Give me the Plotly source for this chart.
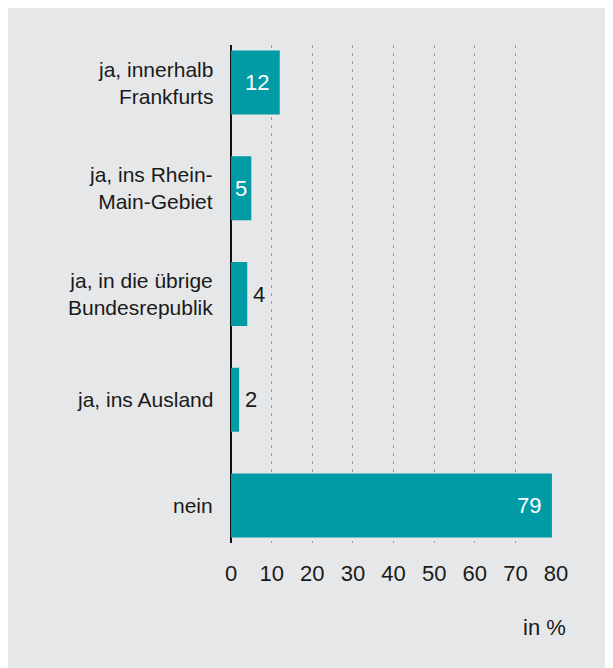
import plotly.graph_objects as go

# Antworten (von oben nach unten) und Anteile in %
categories = ['ja, innerhalb<br>Frankfurts', 'ja, ins Rhein-<br>Main-Gebiet',
              'ja, in die übrige<br>Bundesrepublik', 'ja, ins Ausland', 'nein']
values = [12, 5, 4, 2, 79]
label_inside = [True, True, False, False, True]
x_ticks = [0, 10, 20, 30, 40, 50, 60, 70, 80]

TEAL = '#009ba4'
GREY_BG = '#e6e7e9'
DARK = '#1a1a1a'
FONT = 'Liberation Sans, Arial, sans-serif'

fig = go.Figure()
fig.add_trace(go.Bar(
    x=values, y=categories, orientation='h',
    marker=dict(color=TEAL, line=dict(width=0)),
    hoverinfo='skip'
))

annotations = []
# Werte an den Balken
for cat, val, inside in zip(categories, values, label_inside):
    if inside and val >= 10:
        pos = dict(x=val, xanchor='right', xshift=-9)
    elif inside:
        pos = dict(x=val / 2, xanchor='center', xshift=0)
    else:
        pos = dict(x=val, xanchor='left', xshift=4)
    annotations.append(dict(
        y=cat, xref='x', yref='y', text=str(val), showarrow=False,
        font=dict(size=22, color='white' if inside else DARK, family=FONT),
        **pos
    ))

# Kategorienbeschriftungen
for cat in categories:
    annotations.append(dict(
        x=0, y=cat, xref='paper', yref='y', text=cat, showarrow=False,
        xanchor='right', align='right', xshift=-16,
        font=dict(size=21, color=DARK, family=FONT)
    ))

annotations.append(dict(
    x=1.036, y=-0.17, xref='paper', yref='paper', text='in %', showarrow=False,
    xanchor='right', yanchor='middle',
    font=dict(size=22, color=DARK, family=FONT)
))

fig.update_layout(
    width=613, height=668,
    margin=dict(l=223, r=65, t=37, b=133),
    paper_bgcolor=GREY_BG,
    plot_bgcolor='rgba(0,0,0,0)',
    bargap=0.395,
    showlegend=False,
    font=dict(family=FONT, size=22, color=DARK),
    annotations=annotations,
    xaxis=dict(
        range=[0, 80], tickvals=x_ticks, ticks='', ticklabelstandoff=15,
        showgrid=True, gridcolor='#9a9a9a', gridwidth=1, griddash='3px,5px',
        zeroline=True, zerolinecolor='#111111', zerolinewidth=1.5,
        showline=False, tickfont=dict(size=22, color=DARK, family=FONT)
    ),
    yaxis=dict(
        range=[4.355, -0.355], showticklabels=False, ticks='',
        showgrid=False, zeroline=False, showline=False
    )
)

fig.write_html('out.html')
